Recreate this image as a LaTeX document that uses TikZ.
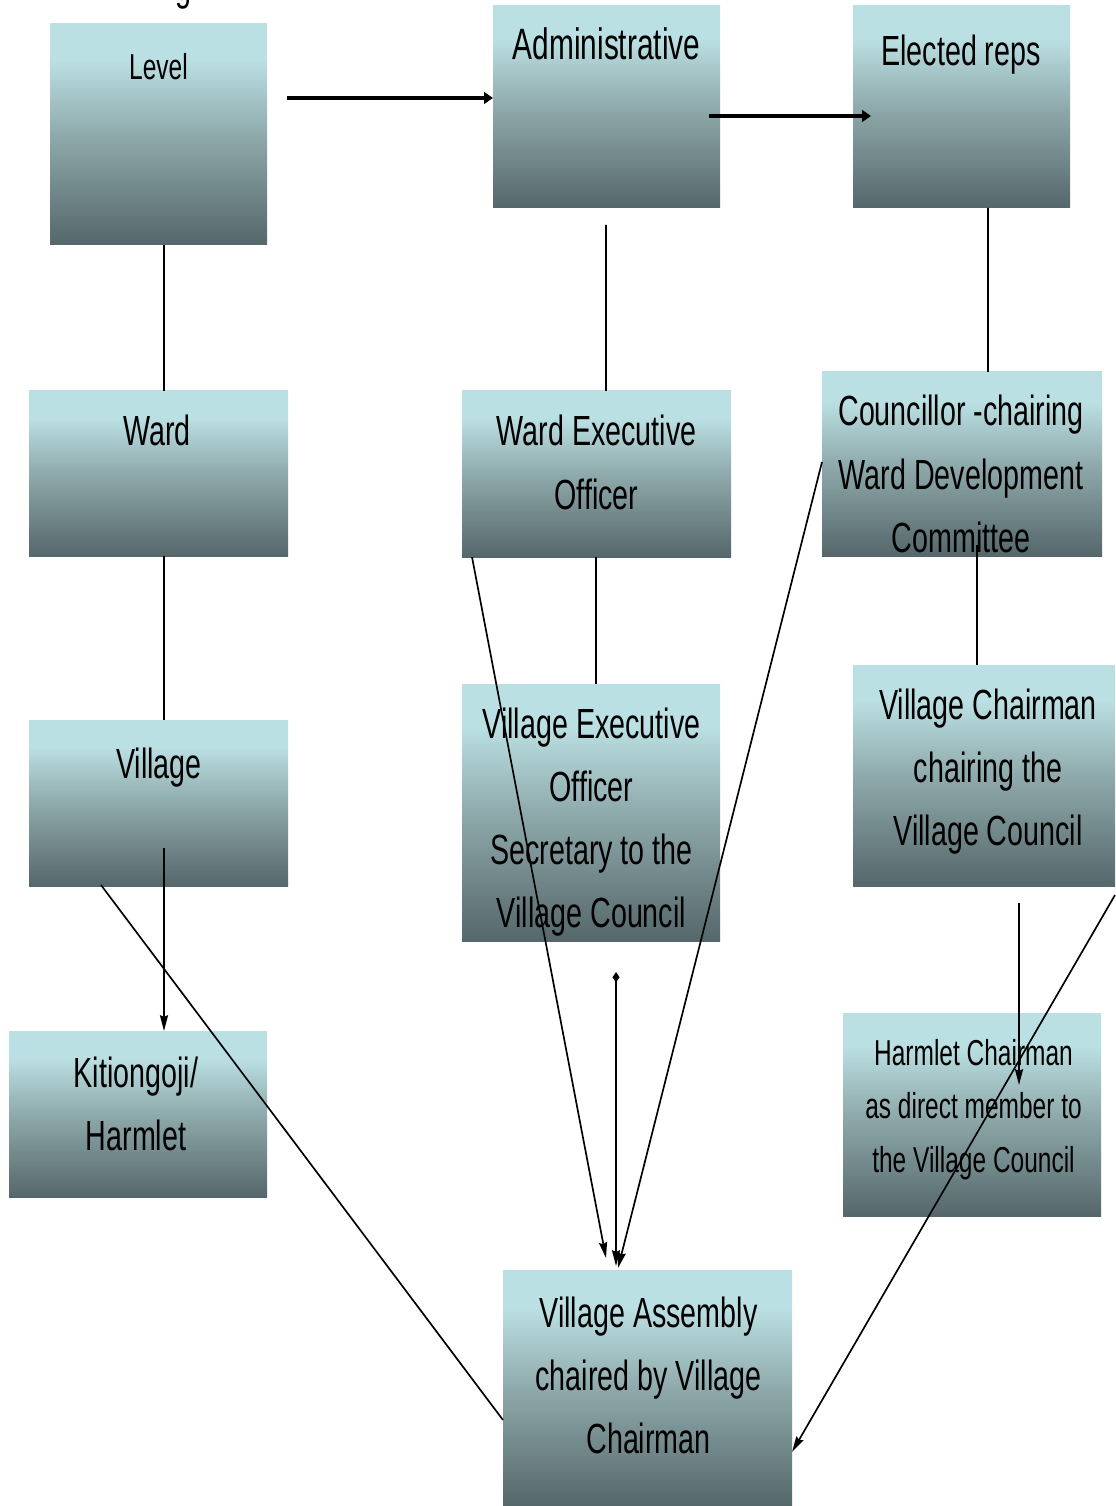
\documentclass[tikz,border=0pt]{standalone}
\usepackage{fontspec}
\newfontfamily\hand[FakeStretch=0.68]{Liberation Sans}
\usetikzlibrary{arrows.meta,calc}
\definecolor{boxtop}{HTML}{BBE0E3}
\definecolor{boxmid}{HTML}{8FAAAC}
\definecolor{boxbot}{HTML}{55676A}
\pgfdeclareverticalshading{boxshade}{100bp}{color(0bp)=(boxbot); color(25bp)=(boxbot); color(50bp)=(boxmid); color(67bp)=(boxtop); color(100bp)=(boxtop)}
\newcommand\ml[1]{\begin{tabular}[t]{@{}c@{}}#1\end{tabular}}
\begin{document}
\begin{tikzpicture}[x=0.02cm,y=-0.02cm,
  box/.style={shade,shading=boxshade,draw=none,inner sep=0pt,outer sep=0pt},
  lbl/.style={anchor=base,inner sep=0pt,text=black,font=\hand\fontsize{24}{36}\selectfont},
  small/.style={font=\hand\fontsize{20.5}{30.6}\selectfont},
  ln/.style={line width=0.95pt,black},
  arr/.style={ln,-{Stealth[length=9pt,width=4.6pt,inset=1pt]}},
  tharr/.style={line width=1.9pt,black,-{Triangle[length=5pt,width=6.5pt]}},
]
\useasboundingbox (0,0) rectangle (1115,1506);
\fill[white] (0,0) rectangle (1115,1506);

% cut-off title fragment
\node[lbl] (frag) at (183,1) {g};

% boxes
\node[box,minimum width=217*0.02cm,minimum height=221*0.02cm] (lev) at (158.5,134.5) {};
\node[box,minimum width=227*0.02cm,minimum height=202*0.02cm] (adm) at (606.5,107) {};
\node[box,minimum width=217*0.02cm,minimum height=202*0.02cm] (ele) at (961.5,107) {};
\node[box,minimum width=259*0.02cm,minimum height=165*0.02cm] (ward) at (158.5,473.5) {};
\node[box,minimum width=269*0.02cm,minimum height=166*0.02cm] (weo) at (596.5,474) {};
\node[box,minimum width=280*0.02cm,minimum height=184*0.02cm] (cou) at (962,464) {};
\node[box,minimum width=259*0.02cm,minimum height=166*0.02cm] (vil) at (158.5,803) {};
\node[box,minimum width=258*0.02cm,minimum height=257*0.02cm] (veo) at (591,812.5) {};
\node[box,minimum width=262*0.02cm,minimum height=221*0.02cm] (vch) at (984,775.5) {};
\node[box,minimum width=258*0.02cm,minimum height=166*0.02cm] (kit) at (138,1114) {};
\node[box,minimum width=258*0.02cm,minimum height=203*0.02cm] (hch) at (972,1114.5) {};
\node[box,minimum width=289*0.02cm,minimum height=236*0.02cm] (vas) at (647.5,1388) {};

% texts
\node[lbl,font=\hand\fontsize{20.5}{30}\selectfont] (tlev) at (158.5,80) {Level};
\node[lbl,font=\hand\fontsize{25}{36}\selectfont] (tadm) at (606.5,60) {Administrative};
\node[lbl] (tele) at (961,66) {Elected reps};
\node[lbl] (tward) at (157,446) {Ward};
\node[lbl] (tweo) at (596.5,446) {\ml{Ward Executive\\Officer}};
\node[lbl] (tcou) at (961,426) {\ml{Councillor -chairing\\Ward Development\\Committee}};
\node[lbl] (tvil) at (159,778) {Village};
\node[lbl] (tveo) at (591.5,738) {\ml{Village Executive\\Officer\\Secretary to the\\Village Council}};
\node[lbl] (tvch) at (988,719) {\ml{Village Chairman\\chairing the\\Village Council}};
\node[lbl] (tkit) at (136,1087) {\ml{Kitiongoji/\\Harmlet}};
\node[lbl,small] (thch) at (973.5,1065) {\ml{Harmlet Chairman\\as direct member to\\the Village Council}};
\node[lbl] (tvas) at (648.5,1327) {\ml{Village Assembly\\chaired by Village\\Chairman}};

% connectors
\draw[tharr] ($(lev.north east)+(20,74)$) -- ($(adm.north west)+(0,92)$);
\draw[tharr] ($(adm.north east)+(-11,110)$) -- ($(ele.north west)+(18,110)$);
\draw[ln] ($(lev.south)+(5.5,0)$) -- ($(ward.north)+(5.5,0)$);
\draw[ln] ($(adm.south)+(-0.5,17)$) -- ($(weo.north)+(9.5,0)$);
\draw[ln] ($(ele.south)+(26.5,0)$) -- ($(cou.north)+(26,0)$);
\draw[ln] ($(ward.south)+(5.5,0)$) -- ($(vil.north)+(5.5,0)$);
\draw[ln] ($(weo.south)+(-0.5,0)$) -- ($(veo.north)+(5,0)$);
\draw[ln] ($(cou.south)+(15,-11)$) -- ($(vch.north)+(-7,0)$);
\draw[arr] ($(vil.south)+(5.5,-38)$) -- ($(kit.north)+(26,0)$);
\draw[ln] ($(vil.south west)+(72,-1)$) -- ($(vas.south west)+(0,-86)$);
\draw[arr] ($(weo.south west)+(10,0)$) -- ($(vas.north west)+(103,-12)$);
\draw[arr] ($(cou.south west)+(0,-94)$) -- ($(vas.north west)+(115,-2)$);
\draw[ln,{Diamond[length=6pt,width=4pt]}-{Stealth[length=9pt,width=4.6pt,inset=1pt]}] ($(veo.south)+(25,31)$) -- ($(vas.north west)+(113,-4)$);
\draw[arr] ($(vch.south)+(35,17)$) -- ($(hch.north)+(47,72)$);
\draw[arr] ($(vch.south east)+(0,9)$) -- ($(vas.south east)+(0,-54)$);
\end{tikzpicture}
\end{document}
